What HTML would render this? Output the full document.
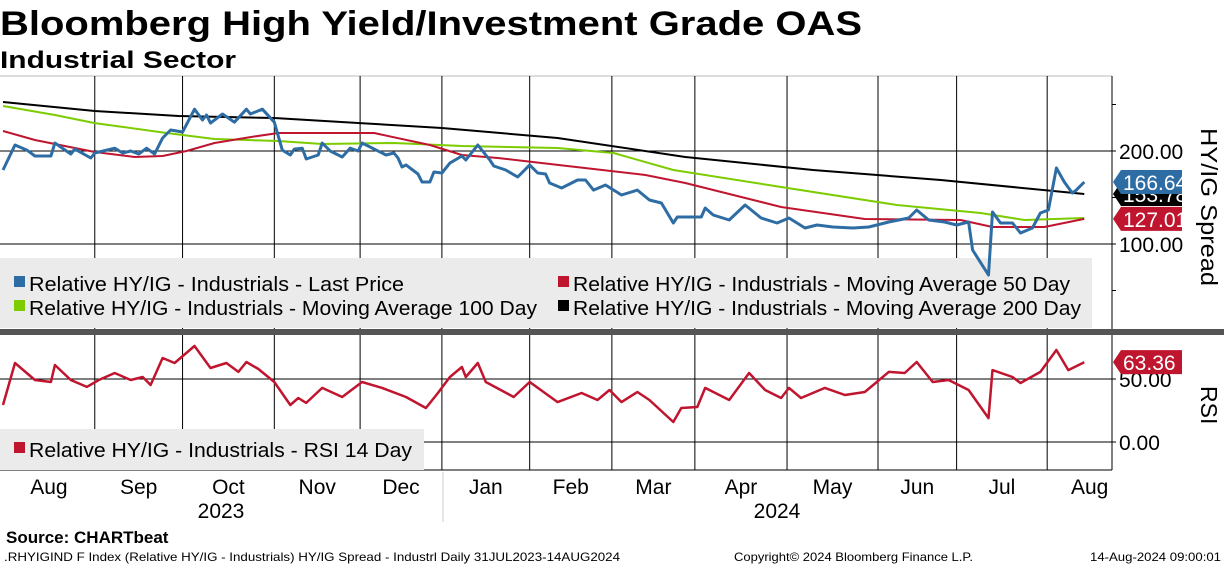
<!DOCTYPE html>
<html><head><meta charset="utf-8"><style>
body{margin:0;background:#fff;width:1224px;height:566px;overflow:hidden;font-family:"Liberation Sans",sans-serif}
svg text{font-family:"Liberation Sans",sans-serif}
</style></head><body>
<svg id="c" width="1224" height="566" xmlns="http://www.w3.org/2000/svg">
<text x="0" y="35" font-size="34" font-weight="bold" textLength="862" lengthAdjust="spacingAndGlyphs">Bloomberg High Yield/Investment Grade OAS</text>
<text x="0" y="68" font-size="24" font-weight="bold" textLength="236" lengthAdjust="spacingAndGlyphs">Industrial Sector</text>
<g id="grid"></g>
<rect x="0" y="258" width="1092" height="70" fill="#ebebeb"/>
<rect x="0" y="429" width="424" height="41" fill="#ebebeb"/>
<g id="series"></g>
<rect x="0" y="329" width="1224" height="6" fill="#555"/>
<g font-size="20">
<rect x="14" y="276" width="11" height="11" fill="#2e6da4"/>
<text x="29" y="291" textLength="375" lengthAdjust="spacingAndGlyphs">Relative HY/IG - Industrials - Last Price</text>
<rect x="558" y="276" width="11" height="11" fill="#c0152f"/>
<text x="573" y="291" textLength="497" lengthAdjust="spacingAndGlyphs">Relative HY/IG - Industrials - Moving Average 50 Day</text>
<rect x="14" y="300" width="11" height="11" fill="#7ccc00"/>
<text x="29" y="315" textLength="508" lengthAdjust="spacingAndGlyphs">Relative HY/IG - Industrials - Moving Average 100 Day</text>
<rect x="558" y="300" width="11" height="11" fill="#000"/>
<text x="573" y="315" textLength="508" lengthAdjust="spacingAndGlyphs">Relative HY/IG - Industrials - Moving Average 200 Day</text>
<rect x="14" y="442" width="11" height="11" fill="#c0152f"/>
<text x="29" y="457" textLength="383" lengthAdjust="spacingAndGlyphs">Relative HY/IG - Industrials - RSI 14 Day</text>
</g>
<text transform="translate(1201,128) rotate(90)" font-size="23" textLength="158" lengthAdjust="spacingAndGlyphs">HY/IG Spread</text>
<text transform="translate(1201,386) rotate(90)" font-size="23">RSI</text>
<g id="labels"></g>
<line x1="443" y1="472" x2="443" y2="522" stroke="#ccc"/>
<text x="221" y="518" font-size="21" text-anchor="middle">2023</text>
<text x="777" y="518" font-size="21" text-anchor="middle">2024</text>
<text x="6" y="543" font-size="17" font-weight="bold">Source: CHARTbeat</text>
<text x="4" y="561" font-size="12" textLength="616" lengthAdjust="spacingAndGlyphs">.RHYIGIND F Index (Relative HY/IG - Industrials) HY/IG Spread - Industrl  Daily 31JUL2023-14AUG2024</text>
<text x="734" y="561" font-size="12" textLength="239" lengthAdjust="spacingAndGlyphs">Copyright© 2024 Bloomberg Finance L.P.</text>
<text x="1090" y="561" font-size="12" textLength="131" lengthAdjust="spacingAndGlyphs">14-Aug-2024 09:00:01</text>
</svg>
<script>
const months=["Aug","Sep","Oct","Nov","Dec","Jan","Feb","Mar","Apr","May","Jun","Jul","Aug"];
const monthStart=[0,23,45,68,89.5,110,132,152.6,173.4,196.5,219.3,239,261.7];
const monthEnd=[23,45,68,89.5,110,132,152.6,173.4,196.5,219.3,239,261.7,283];
const spreadTicks=[100,200];
const rsiTicks=[0,50];
const lastIdx=[0,3,6,8,12,13,17,18,22,23,28,30,32,34,36,38,40,42,45,48,50,51,52,55,58,61,62,65,68,70,72,73,75,76,79,80,82,85,87,89,90,96,98,99,100,101,104,105,107,108,110,112,115,116,119,122,123,126,129,132,134,136,137,140,144,146,148,151,155,159,162,165,168,169,175,176,178,182,186,190,194,197,201,204,208,213,217,222,227,229,232,236,239,242,243,247,248,250,253,255,258,260,262,264,266,268,269,271];
const lastVal=[179.6,206.5,201,194.6,194.6,208.6,196.8,202,192.5,197.8,203,197.8,200,196.8,203,196.8,214,222.6,220.4,245,233.3,238.7,230,239.8,231,245,239.8,245,231,201,195.7,202,203,191.4,195.7,208.6,200,193.5,203,200,208.6,195.7,197.8,192.5,182.8,185,175.3,166.7,166.7,177.4,176.3,187,194.6,190.3,206.5,190.3,183.9,179.6,172,185,176.3,175.3,165.6,160.2,168.8,168.8,158,163.4,152.7,158,147.3,144.1,122.6,129,129,138.7,131.2,125.8,141.9,128,122.6,128,117.2,120.4,118.3,117.2,118.3,123.7,128,136.6,125.8,123.7,120.4,123.7,93.5,66.7,134.4,122.6,122.6,111.8,117.2,133.3,136.6,181.7,166.7,154.8,158,166.64];
const ma50Idx=[0,8,23,33,40,46,53,62,69,80,93,107,115,124,139,161,171,195,216,240,248,261,271];
const ma50Val=[221.5,211.8,198.9,193.5,194.6,200,208.6,215,219.4,219.4,219.4,206.5,195.7,192.5,185,174.2,165.6,139.8,126.9,125.8,118.3,118.3,127.01];
const ma100Idx=[0,13,23,41,53,69,80,98,115,139,153,168,195,224,245,256,271];
const ma100Val=[248.4,238.7,230,219.4,212.9,210.8,207.5,208.6,205.4,203.2,197.8,179.6,161.3,141.9,133.3,125.8,128];
const ma200Idx=[0,23,44,68,89,110,139,171,203,235,271];
const ma200Val=[252.7,243,237.6,235.5,230.1,224.7,214,193.5,179.6,168.8,153.78];
const rsiIdx=[0,3,8,12,13,17,21,24,28,32,35,37,40,43,48,52,56,59,61,64,68,72,74,76,80,85,90,95,101,106,109,112,115,116,119,121,128,132,139,145,149,152,155,159,162,168,170,174,176,182,187,191,195,197,200,206,211,216,219,222,226,229,233,237,242,247,248,253,255,260,264,267,271];
const rsiVal=[29.4,62.7,49.2,47.6,61.1,49.2,43.7,49.2,54.8,49.2,51.6,45.2,66.7,62.7,76.2,58.7,62.7,55.6,63.5,57.9,47.6,29.4,34.9,31,42.9,35.7,47.6,42.9,35.7,27,38.9,51.6,59.5,51.6,62.7,47.6,35.7,47.6,31.7,38.9,33.3,41.3,31.7,39.7,33.3,15.9,27,27.8,42.9,33.3,54.8,41.3,34.9,42.9,34.9,42.9,37.3,39.7,47.6,55.6,54.8,63.5,47.6,49.2,41.3,19,57.1,51.6,46.8,55.6,73,57.1,63.36];

const NS="http://www.w3.org/2000/svg";
const X=i=>3+i*3.99;
const Y=v=>244-(v-100)*0.93;
const YR=v=>442-v*1.26;
function mk(tag,attrs,parent){const e=document.createElementNS(NS,tag);for(const k in attrs)e.setAttribute(k,attrs[k]);parent.appendChild(e);return e;}
const grid=document.getElementById('grid'),ser=document.getElementById('series'),lab=document.getElementById('labels');
let l;
l=mk('line',{x1:0,y1:76,x2:1112,y2:76,stroke:'#bbb'},grid);


l=mk('line',{x1:1112,y1:76,x2:1112,y2:470,stroke:'#000'},grid);


l=mk('line',{x1:0,y1:470,x2:1112,y2:470,stroke:'#000'},grid);


monthStart.forEach((s,i)=>{
  if(i>0){
    const g=mk('line',{x1:X(s),y1:76,x2:X(s),y2:470,stroke:'#000','stroke-width':1},grid);
    
    
  }
  const t=mk('text',{x:(X(s)+X(monthEnd[i]))/2,y:494,'font-size':21,'text-anchor':'middle'},lab);
  t.textContent=months[i];
  
  
});
spreadTicks.forEach(v=>{
  const g=mk('line',{x1:0,y1:Y(v),x2:1116,y2:Y(v),stroke:'#000'},grid);
  
  
  const t=mk('text',{x:1119,y:Y(v)+8,'font-size':21},lab);
  t.textContent=v.toFixed(2);
  
  
});
[50,150,250].forEach(v=>{const m=mk('line',{x1:1112,y1:Y(v),x2:1116,y2:Y(v),stroke:'#000'},grid);

});
rsiTicks.forEach(v=>{
  const g=mk('line',{x1:0,y1:YR(v),x2:1116,y2:YR(v),stroke:'#000'},grid);
  
  
  const t=mk('text',{x:1119,y:YR(v)+8,'font-size':21},lab);
  t.textContent=v.toFixed(2);
  
  
});
function line(idx,val,yf,color,w,name){
  const d=idx.map((i,k)=>(k?'L':'M')+X(i).toFixed(1)+','+yf(val[k]).toFixed(1)).join('');
  const p=mk('path',{d:d,fill:'none',stroke:color,'stroke-width':w,'stroke-linejoin':'round'},ser);
  
  
}
line(ma200Idx,ma200Val,Y,'#000',2,'ma200-line');
line(ma100Idx,ma100Val,Y,'#7ccc00',2,'ma100-line');
line(ma50Idx,ma50Val,Y,'#c0152f',2,'ma50-line');
line(lastIdx,lastVal,Y,'#2e6da4',3,'last-price-line');
line(rsiIdx,rsiVal,YR,'#c0152f',2.5,'rsi-line');
function tag(v,y,bg,fg,name){
  const g=mk('g',{},lab);
  
  
  mk('path',{d:`M1113,${y} L1121,${y-12} L1182,${y-12} L1182,${y+12} L1121,${y+12} Z`,fill:bg},g);
  const t=mk('text',{x:1123,y:y+8,'font-size':21,fill:fg},g);t.textContent=v.toFixed(2);
}
tag(ma200Val[ma200Val.length-1],Y(ma200Val[ma200Val.length-1]),'#000','#fff','ma200-value-tag');
tag(lastVal[lastVal.length-1],Y(lastVal[lastVal.length-1]),'#2e6da4','#fff','last-price-value-tag');
tag(ma50Val[ma50Val.length-1],Y(ma50Val[ma50Val.length-1]),'#c0152f','#fff','ma50-value-tag');
tag(rsiVal[rsiVal.length-1],YR(rsiVal[rsiVal.length-1]),'#c0152f','#fff','rsi-value-tag');
</script>
</body></html>
